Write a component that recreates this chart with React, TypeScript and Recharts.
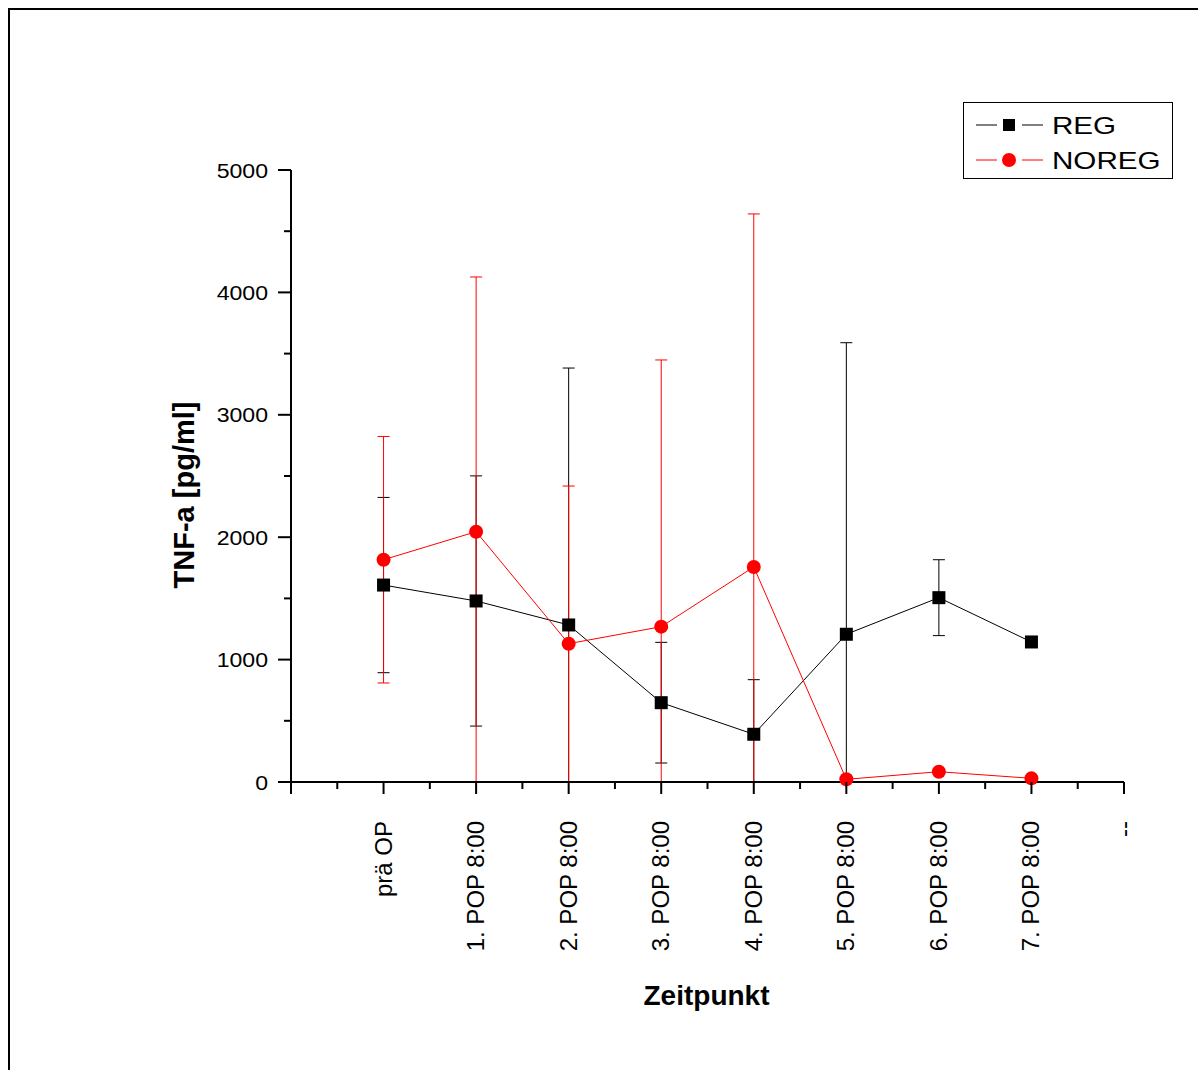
import React from 'react';
import { ComposedChart, Line, XAxis, YAxis, ErrorBar, Legend } from 'recharts';

// ---------- data ----------
const categories = [
  'prä OP',
  '1. POP 8:00',
  '2. POP 8:00',
  '3. POP 8:00',
  '4. POP 8:00',
  '5. POP 8:00',
  '6. POP 8:00',
  '7. POP 8:00',
];
const endLabel = '--';

const regValues = [1609, 1479, 1283, 648, 390, 1207, 1506, 1144];
const regErrors = [716, 1022, 2099, 493, 446, 2382, 310, null];

const noregValues = [1816, 2045, 1130, 1269, 1757, 22, 84, 30];
const noregErrors = [1007, 2081, 1288, 2179, 2884, null, null, null];

const xTickValues = [0, 0.5, 1, 1.5, 2, 2.5, 3, 3.5, 4, 4.5, 5, 5.5, 6, 6.5, 7, 7.5, 8, 8.5, 9];
const yTickValues = [0, 500, 1000, 1500, 2000, 2500, 3000, 3500, 4000, 4500, 5000];

const seriesMeta = [
  { key: 'reg', name: 'REG', color: '#000000', shape: 'square' },
  { key: 'noreg', name: 'NOREG', color: '#ff0000', shape: 'circle' },
];

// error bars are clipped at the axis (0), as in the original plot
const clipErr = (v: number, e: number | null) => (e == null ? null : [Math.min(e, v), e]);

const data = categories.map((c, i) => ({
  x: i + 1,
  cat: c,
  reg: regValues[i],
  regErr: clipErr(regValues[i], regErrors[i]),
  noreg: noregValues[i],
  noregErr: clipErr(noregValues[i], noregErrors[i]),
}));

const FONT = 'Liberation Sans, Arial, Helvetica, sans-serif';

// ---------- ticks ----------
const XTick = (props: any) => {
  const { x, y, payload } = props;
  const v = payload.value;
  const major = Number.isInteger(v);
  let label = '';
  if (major && v >= 1) label = v <= categories.length ? categories[v - 1] : endLabel;
  return (
    <g>
      <line x1={x} x2={x} y1={y} y2={y + (major ? 12 : 7)} stroke="#000" strokeWidth={2} />
      {label ? (
        <text
          transform={`translate(${x + 8},${y + 39}) rotate(-90)`}
          textAnchor="end"
          fontSize={24}
          fontFamily={FONT}
          fill="#000"
        >
          {label}
        </text>
      ) : null}
    </g>
  );
};

const YTick = (props: any) => {
  const { x, y, payload } = props;
  const v = payload.value;
  const major = v % 1000 === 0;
  return (
    <g>
      <line x1={x - (major ? 13 : 7)} x2={x} y1={y} y2={y} stroke="#000" strokeWidth={2} />
      {major ? (
        <text
          transform={`translate(${x - 23},${y + 7.5}) scale(1.1,1)`}
          textAnchor="end"
          fontSize={21}
          fontFamily={FONT}
          fill="#000"
        >
          {v}
        </text>
      ) : null}
    </g>
  );
};

const XTitle = (props: any) => {
  const { x, y, width } = props.viewBox;
  return (
    <text x={x + width / 2 - 1} y={y + 223} textAnchor="middle" fontSize={28} fontWeight="bold" fontFamily={FONT} fill="#000">
      Zeitpunkt
    </text>
  );
};

const YTitle = (props: any) => {
  const { x, y, height } = props.viewBox;
  return (
    <text
      transform={`translate(${x + 103},${y + height / 2 + 19}) rotate(-90)`}
      textAnchor="middle"
      fontSize={29}
      fontWeight="bold"
      fontFamily={FONT}
      fill="#000"
    >
      TNF-a [pg/ml]
    </text>
  );
};

// ---------- markers ----------
const SquareDot = (props: any) => {
  const { cx, cy, index } = props;
  if (cx == null || cy == null) return <g key={`sq-${index}`} />;
  return <rect key={`sq-${index}`} x={cx - 6.5} y={cy - 6.5} width={13} height={13} fill="#000" />;
};

const CircleDot = (props: any) => {
  const { cx, cy, index } = props;
  if (cx == null || cy == null) return <g key={`ci-${index}`} />;
  return <circle key={`ci-${index}`} cx={cx} cy={cy} r={7} fill="#ff0000" />;
};

// ---------- legend ----------
const renderLegend = (props: any) => {
  const items = [...(props.payload || [])].sort(
    (a: any, b: any) =>
      seriesMeta.findIndex((m) => m.key === a.dataKey) - seriesMeta.findIndex((m) => m.key === b.dataKey)
  );
  return (
    <svg width={210} height={77} style={{ display: 'block' }}>
      <rect x={0.5} y={0.5} width={209} height={76} fill="#fff" stroke="#000" strokeWidth={1} />
      {items.map((item: any, i: number) => {
        const meta = seriesMeta.find((m) => m.key === item.dataKey) || seriesMeta[i];
        const cy = 23 + i * 35;
        return (
          <g key={meta.key}>
            <line x1={13} x2={34} y1={cy} y2={cy} stroke={meta.color} strokeWidth={1} />
            <line x1={59} x2={80} y1={cy} y2={cy} stroke={meta.color} strokeWidth={1} />
            {meta.shape === 'square' ? (
              <rect x={46 - 6} y={cy - 6} width={12} height={12} fill={meta.color} />
            ) : (
              <circle cx={46} cy={cy} r={7} fill={meta.color} />
            )}
            <text
              transform={`translate(89,${cy + 8.5}) scale(1.26,1)`}
              fontSize={23.5}
              fontFamily={FONT}
              fill="#000"
            >
              {item.value}
            </text>
          </g>
        );
      })}
    </svg>
  );
};

export default function App() {
  return (
    <>
      <style>{'html,body{margin:0;padding:0;overflow:hidden;background:#fff}'}</style>
      <div
        style={{
          position: 'relative',
          marginLeft: 8,
          marginTop: 8,
          width: 1190,
          height: 1062,
          boxSizing: 'border-box',
          borderLeft: '2px solid #000',
          borderTop: '2px solid #000',
          overflow: 'hidden',
          background: '#fff',
        }}
      >
        <ComposedChart
          width={1188}
          height={1060}
          data={data}
          margin={{ top: 160, right: 74, left: 81, bottom: 88 }}
        >
          <XAxis
            type="number"
            dataKey="x"
            domain={[0, 9]}
            ticks={xTickValues}
            interval={0}
            allowDecimals
            tickLine={false}
            tickSize={0}
            tickMargin={0}
            height={200}
            axisLine={{ stroke: '#000', strokeWidth: 2 }}
            tick={XTick}
            label={{ content: XTitle }}
          />
          <YAxis
            type="number"
            domain={[0, 5000]}
            ticks={yTickValues}
            interval={0}
            tickLine={false}
            tickSize={0}
            tickMargin={0}
            width={200}
            axisLine={{ stroke: '#000', strokeWidth: 2 }}
            tick={YTick}
            label={{ content: YTitle }}
          />
          <Legend
            layout="vertical"
            align="center"
            verticalAlign="middle"
            wrapperStyle={{ left: 953, top: 92, width: 210, height: 77 }}
            content={renderLegend}
          />
          <Line
            type="linear"
            dataKey="reg"
            name={seriesMeta[0].name}
            stroke={seriesMeta[0].color}
            strokeWidth={1}
            dot={SquareDot}
            activeDot={false}
            isAnimationActive={false}
          >
            <ErrorBar dataKey="regErr" direction="y" width={6} stroke="#000" strokeWidth={1} isAnimationActive={false} />
          </Line>
          <Line
            type="linear"
            dataKey="noreg"
            name={seriesMeta[1].name}
            stroke={seriesMeta[1].color}
            strokeWidth={1}
            dot={CircleDot}
            activeDot={false}
            isAnimationActive={false}
          >
            <ErrorBar dataKey="noregErr" direction="y" width={6} stroke="#ff0000" strokeWidth={1} isAnimationActive={false} />
          </Line>
        </ComposedChart>
      </div>
    </>
  );
}
